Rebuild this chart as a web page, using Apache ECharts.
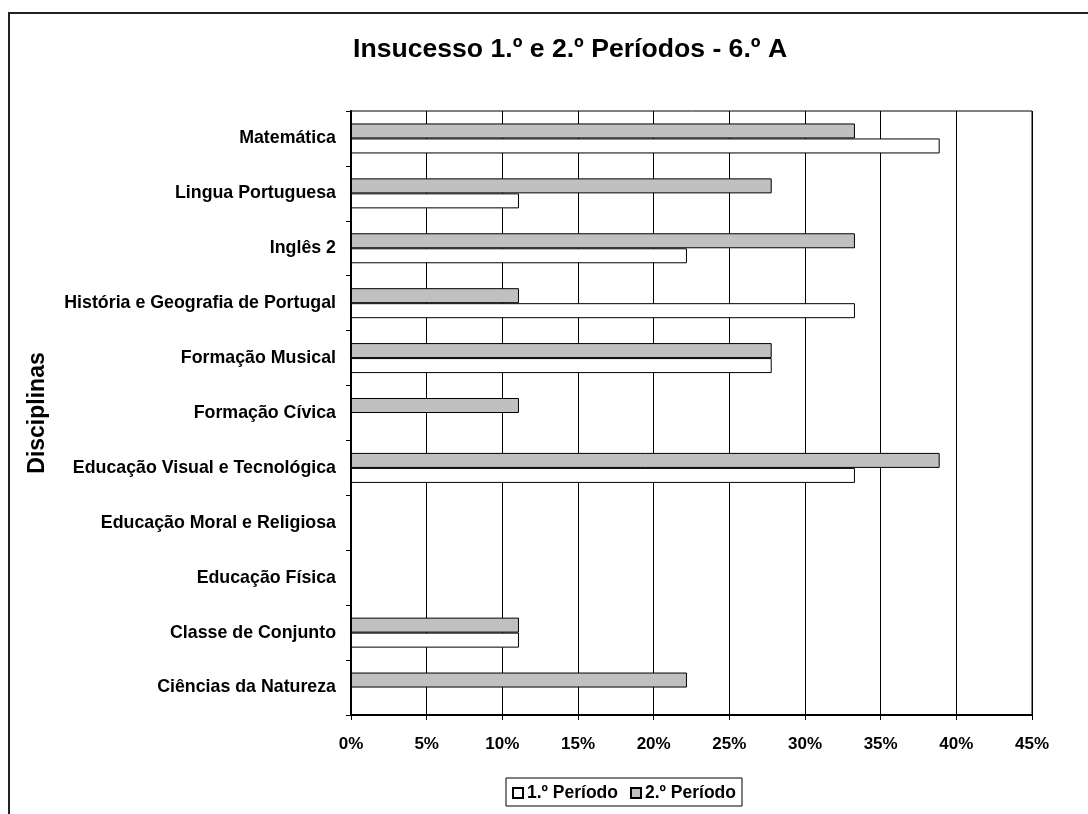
<!DOCTYPE html>
<html>
<head>
<meta charset="utf-8">
<script src="https://cdn.jsdelivr.net/npm/echarts@6/dist/echarts.min.js"></script>
<style>
html,body{margin:0;padding:0;background:#fff;}
#chart{width:1088px;height:814px;}
</style>
</head>
<body>
<div id="chart"></div>
<script>
// Categories listed bottom -> top (as drawn on the category axis)
const categories = [
  'Ciências da Natureza',
  'Classe de Conjunto',
  'Educação Física',
  'Educação Moral e Religiosa',
  'Educação Visual e Tecnológica',
  'Formação Cívica',
  'Formação Musical',
  'História e Geografia de Portugal',
  'Inglês 2',
  'Lingua Portuguesa',
  'Matemática'
];
// Values in percent
const periodo1 = [0, 11.1, 0, 0, 33.3, 0, 27.8, 33.3, 22.2, 11.1, 38.9];
const periodo2 = [22.2, 11.1, 0, 0, 38.9, 11.1, 27.8, 11.1, 33.3, 27.8, 33.3];
const seriesNames = ['1.º Período', '2.º Período'];
const titleText = 'Insucesso 1.º e 2.º Períodos - 6.º A';
const yAxisName = 'Disciplinas';
const xTickFormat = '{value}%';

const FONT = "'Liberation Sans', Arial, sans-serif";
const chart = echarts.init(document.getElementById('chart'), null, {renderer: 'canvas'});

chart.setOption({
  animation: false,
  backgroundColor: '#ffffff',
  textStyle: {fontFamily: FONT},
  graphic: [{
    type: 'rect',
    shape: {x: 9, y: 13, width: 1200, height: 1000},
    style: {fill: 'none', stroke: '#222', lineWidth: 2},
    silent: true,
    z: -1
  }],
  title: {
    text: titleText,
    left: 353,
    top: 36,
    padding: 0,
    textStyle: {fontFamily: FONT, fontSize: 26.6, fontWeight: 'bold', color: '#000'}
  },
  legend: {
    data: seriesNames,
    left: 506,
    top: 778,
    orient: 'horizontal',
    icon: 'rect',
    itemWidth: 10,
    itemHeight: 10,
    itemGap: 12,
    padding: [6, 6, 4, 6],
    borderColor: '#000',
    borderWidth: 1,
    textStyle: {fontFamily: FONT, fontSize: 17.5, fontWeight: 'bold', color: '#000', padding: [0,0,0,-1]}
  },
  grid: {
    left: 351,
    top: 111,
    right: 56,
    bottom: 99,
    show: true,
    borderColor: '#000',
    borderWidth: 1,
    containLabel: false
  },
  xAxis: {
    type: 'value',
    min: 0,
    max: 45,
    interval: 5,
    axisLine: {show: true, lineStyle: {color: '#000', width: 2}},
    axisTick: {show: true, length: 5, lineStyle: {color: '#000'}},
    axisLabel: {formatter: xTickFormat, fontFamily: FONT, fontSize: 17, fontWeight: 'bold', color: '#000', margin: 21},
    splitLine: {show: true, lineStyle: {color: '#000', width: 1}}
  },
  yAxis: {
    type: 'category',
    data: categories,
    name: yAxisName,
    nameLocation: 'middle',
    nameGap: 302,
    nameRotate: 90,
    nameTextStyle: {fontFamily: FONT, fontSize: 23, fontWeight: 'bold', color: '#000'},
    axisLine: {show: true, lineStyle: {color: '#000', width: 2}},
    axisTick: {show: true, length: 5, lineStyle: {color: '#000'}},
    axisLabel: {fontFamily: FONT, fontSize: 17.8, fontWeight: 'bold', color: '#000', margin: 15},
    splitLine: {show: false}
  },
  series: [
    {
      name: seriesNames[1],
      type: 'bar',
      data: periodo2,
      barWidth: 15,
      barGap: '0%',
      itemStyle: {color: '#c0c0c0', borderColor: '#000', borderWidth: 1}
    },
    {
      name: seriesNames[0],
      type: 'bar',
      data: periodo1,
      barWidth: 15,
      barGap: '0%',
      itemStyle: {color: '#ffffff', borderColor: '#000', borderWidth: 1}
    }
  ]
});
</script>
</body>
</html>
